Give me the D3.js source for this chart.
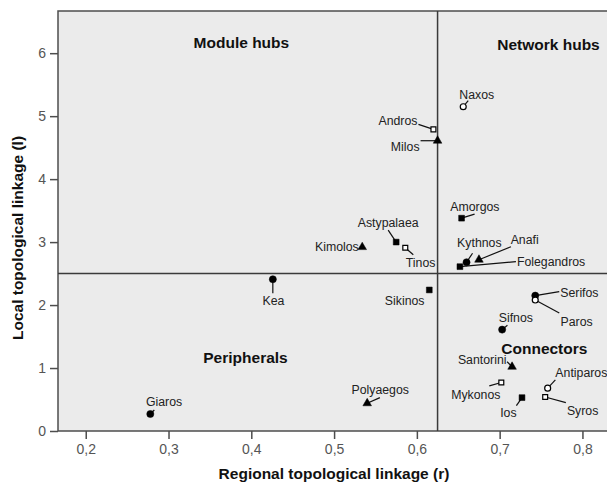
<!DOCTYPE html>
<html>
<head>
<meta charset="utf-8">
<script src="https://cdn.jsdelivr.net/npm/d3@7"></script>
<style>
  body { margin: 0; background: #fff; }
  svg { display: block; font-family: "Liberation Sans", Arial, sans-serif; }
</style>
</head>
<body>
<div id="chart"></div>
<script>
// Cyclades islands: regional (r) vs local (l) topological linkage

const islands = ['Naxos', 'Andros', 'Milos', 'Amorgos', 'Astypalaea', 'Tinos', 'Kimolos', 'Kea',
  'Sikinos', 'Kythnos', 'Anafi', 'Folegandros', 'Serifos', 'Paros', 'Sifnos', 'Santorini',
  'Mykonos', 'Ios', 'Antiparos', 'Syros', 'Polyaegos', 'Giaros'];
const rValues = [0.656, 0.620, 0.625, 0.654, 0.575, 0.586, 0.534, 0.426,
  0.615, 0.660, 0.675, 0.652, 0.743, 0.743, 0.703, 0.715,
  0.702, 0.727, 0.758, 0.755, 0.540, 0.278];
const lValues = [5.15, 4.79, 4.61, 3.38, 3.00, 2.91, 2.92, 2.41,
  2.24, 2.68, 2.72, 2.61, 2.15, 2.08, 1.61, 1.02,
  0.77, 0.53, 0.68, 0.54, 0.44, 0.27];
// marker group of each island
const groups = ['circleOpen', 'squareOpen', 'triangle', 'square', 'square', 'squareOpen', 'triangle', 'circle',
  'square', 'circle', 'triangle', 'square', 'circle', 'circleOpen', 'circle', 'triangle',
  'squareOpen', 'square', 'circleOpen', 'squareOpen', 'triangle', 'circle'];

const xTicks = [0.2, 0.3, 0.4, 0.5, 0.6, 0.7, 0.8];
const yTicks = [0, 1, 2, 3, 4, 5, 6];
const rThreshold = 0.625, lThreshold = 2.5;

const quadrants = ['Module hubs', 'Network hubs', 'Peripherals', 'Connectors'];
const quadrantR = [0.388, 0.759, 0.393, 0.754];
const quadrantL = [6.09, 6.05, 1.075, 1.23];

// label placement (pixels from the marker): [anchor, dx, dy, leaderX, leaderY]
const labelLayout = {
  Naxos: ['middle', 13.5, -7.4, 5, -6],
  Andros: ['end', -16, -4, -15, -5],
  Milos: ['end', -18, 10.4, -17, 0],
  Amorgos: ['middle', 13.3, -7.3, 13, -4],
  Astypalaea: ['middle', -8, -15.3, -8, -12],
  Tinos: ['middle', 15.3, 19.6, 8, 7],
  Kimolos: ['end', -3.5, 3.7, null, null],
  Kea: ['middle', 0.6, 26, 0, 14],
  Sikinos: ['middle', -24.6, 15, null, null],
  Kythnos: ['middle', 12.8, -15.6, 6, -9],
  Anafi: ['start', 31.7, -15.3, 32, -13],
  Folegandros: ['start', 57, -1, 56, -5],
  Serifos: ['start', 25, 1, 24, -4],
  Paros: ['start', 25.3, 25.7, 24, 13],
  Sifnos: ['middle', 13.7, -7.6, 5.3, -4.3],
  Santorini: ['end', -5.6, -2.7, -5, -5],
  Mykonos: ['middle', -25.5, 16, -12, 3.4],
  Ios: ['middle', -13.6, 19.6, -5.6, 8],
  Antiparos: ['start', 7.7, -11.6, 7.7, -8.3],
  Syros: ['start', 21.7, 18.3, 20.7, 5.6],
  Polyaegos: ['middle', 13, -9.7, 12.7, -5.7],
  Giaros: ['middle', 13.8, -8, 4, -4]
};

const data = islands.map((name, i) => ({ name, r: rValues[i], l: lValues[i], group: groups[i] }));

const width = 607, height = 485;
const plotLeft = 58, plotTop = 11, plotBottom = 431, plotRight = 611;

const svg = d3.select('#chart').append('svg')
  .attr('width', width)
  .attr('height', height);

const x = d3.scaleLinear().domain([0.1665, 0.8345]).range([plotLeft, plotRight]);
const y = d3.scaleLinear().domain([0, 6.67]).range([plotBottom, plotTop]);

// plot background and frame
svg.append('rect')
  .attr('x', plotLeft).attr('y', plotTop)
  .attr('width', plotRight - plotLeft).attr('height', plotBottom - plotTop)
  .attr('fill', '#ebebeb')
  .attr('stroke', '#4d4d4d')
  .attr('stroke-width', 1.5);

const comma = d => d3.format('.1f')(d).replace('.', ',');

const xAxis = svg.append('g')
  .attr('transform', `translate(0,${plotBottom})`)
  .call(d3.axisBottom(x).tickValues(xTicks).tickFormat(comma).tickSizeOuter(0).tickSize(8).tickPadding(5));
const yAxis = svg.append('g')
  .attr('transform', `translate(${plotLeft},0)`)
  .call(d3.axisLeft(y).tickValues(yTicks).tickFormat(d3.format('d')).tickSizeOuter(0).tickSize(8).tickPadding(4));

[xAxis, yAxis].forEach(g => {
  g.select('.domain').remove();
  g.selectAll('line').attr('stroke', '#4d4d4d').attr('stroke-width', 1.5);
  g.selectAll('text')
    .attr('fill', '#555')
    .style('font-size', '14px')
    .style('font-family', '"Liberation Sans", Arial, sans-serif');
});

// quadrant dividers
svg.append('line')
  .attr('x1', x(rThreshold)).attr('x2', x(rThreshold))
  .attr('y1', plotTop).attr('y2', plotBottom)
  .attr('stroke', '#3a3a3a').attr('stroke-width', 1.5);
svg.append('line')
  .attr('x1', plotLeft).attr('x2', plotRight)
  .attr('y1', y(lThreshold)).attr('y2', y(lThreshold))
  .attr('stroke', '#3a3a3a').attr('stroke-width', 1.5);

// quadrant names
svg.selectAll('text.quad')
  .data(quadrants)
  .enter()
  .append('text')
  .attr('class', 'quad')
  .attr('x', (d, i) => x(quadrantR[i]))
  .attr('y', (d, i) => y(quadrantL[i]))
  .attr('text-anchor', 'middle')
  .attr('font-size', '15.5px')
  .attr('font-weight', 'bold')
  .attr('fill', '#111')
  .text(d => d);

// leader lines
svg.selectAll('line.leader')
  .data(data.filter(d => labelLayout[d.name][3] !== null))
  .enter()
  .append('line')
  .attr('class', 'leader')
  .attr('x1', d => x(d.r))
  .attr('y1', d => y(d.l))
  .attr('x2', d => x(d.r) + labelLayout[d.name][3])
  .attr('y2', d => y(d.l) + labelLayout[d.name][4])
  .attr('stroke', '#111')
  .attr('stroke-width', 1.2);

// markers
const symbolFor = {
  circle: d3.symbol().type(d3.symbolCircle).size(40),
  circleOpen: d3.symbol().type(d3.symbolCircle).size(28),
  square: d3.symbol().type(d3.symbolSquare).size(34),
  squareOpen: d3.symbol().type(d3.symbolSquare).size(24),
  triangle: d3.symbol().type(d3.symbolTriangle).size(32)
};

svg.selectAll('path.island')
  .data(data)
  .enter()
  .append('path')
  .attr('class', 'island')
  .attr('transform', d => `translate(${x(d.r)},${y(d.l)})`)
  .attr('d', d => symbolFor[d.group]())
  .attr('fill', d => d.group.endsWith('Open') ? '#fff' : '#000')
  .attr('stroke', '#000')
  .attr('stroke-width', d => d.group.endsWith('Open') ? 1.2 : 0.5);

// island names
svg.selectAll('text.island')
  .data(data)
  .enter()
  .append('text')
  .attr('class', 'island')
  .attr('x', d => x(d.r) + labelLayout[d.name][1])
  .attr('y', d => y(d.l) + labelLayout[d.name][2])
  .attr('text-anchor', d => labelLayout[d.name][0])
  .attr('font-size', '12.3px')
  .attr('fill', '#222')
  .text(d => d.name);

// axis titles
svg.append('text')
  .attr('x', 334)
  .attr('y', 479)
  .attr('text-anchor', 'middle')
  .attr('font-size', '15.5px')
  .attr('font-weight', 'bold')
  .attr('fill', '#111')
  .text('Regional topological linkage (r)');

svg.append('text')
  .attr('transform', 'translate(23,238) rotate(-90)')
  .attr('text-anchor', 'middle')
  .attr('font-size', '15.5px')
  .attr('font-weight', 'bold')
  .attr('fill', '#111')
  .text('Local topological linkage (l)');
</script>
</body>
</html>
